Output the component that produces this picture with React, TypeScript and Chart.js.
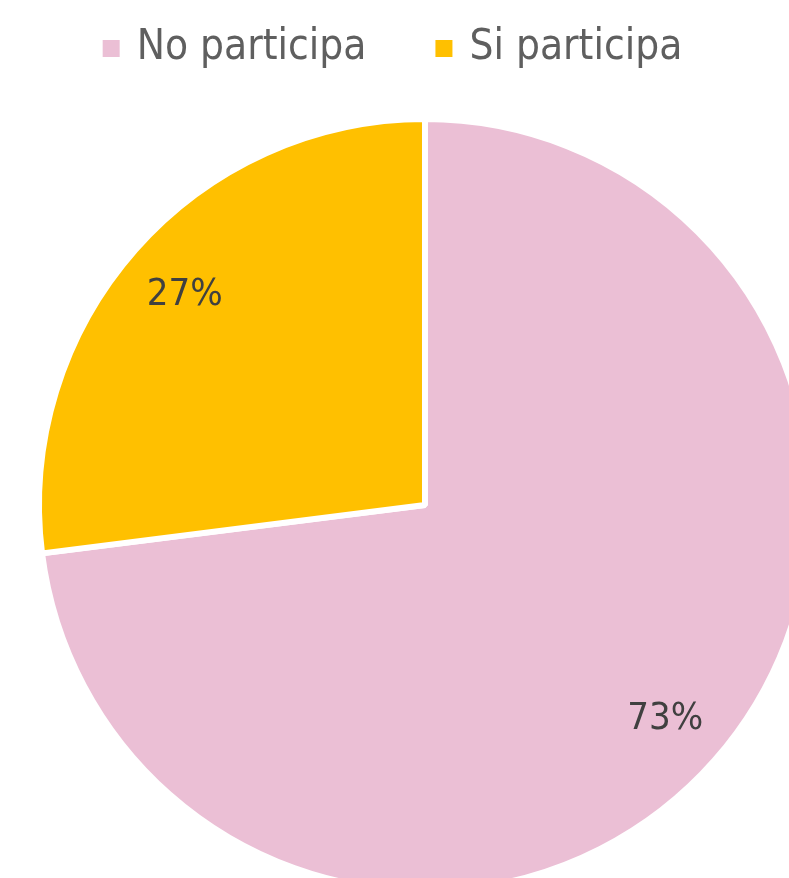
import { useEffect, useRef } from "react";
import { Chart, registerables } from "chart.js";

Chart.register(...registerables);

const categories = ["No participa", "Si participa"];
const values = [73, 27];
const percentLabels = ["73%", "27%"];
const colors = ["#EBBFD5", "#FFC000"];

const FONT = '"DejaVu Sans Condensed", "DejaVu Sans", sans-serif';

export default function App() {
  const ref = useRef<HTMLCanvasElement>(null);

  useEffect(() => {
    if (!ref.current) return;

    const legendPlugin = {
      id: "customLegend",
      afterDraw(chart: any) {
        const ctx = chart.ctx as CanvasRenderingContext2D;
        ctx.save();
        ctx.font = `42px ${FONT}`;
        const labels = chart.data.labels as string[];
        const bg = chart.data.datasets[0].backgroundColor as string[];
        const box = 17;
        const gap = 17;
        const itemGap = 69;
        const widths = labels.map((l) => ctx.measureText(l).width);
        const total =
          widths.reduce((a, w) => a + box + gap + w, 0) + itemGap * (labels.length - 1);
        let x = 392.5 - total / 2;
        const baseline = 59;
        labels.forEach((l, i) => {
          ctx.fillStyle = bg[i];
          ctx.fillRect(x, 40, box, box);
          x += box + gap;
          ctx.fillStyle = "#5F5F5F";
          ctx.textBaseline = "alphabetic";
          ctx.textAlign = "left";
          ctx.fillText(l, x, baseline);
          x += widths[i] + itemGap;
        });
        ctx.restore();
      },
    };

    const pctPlugin = {
      id: "pctLabels",
      afterDatasetsDraw(chart: any) {
        const ctx = chart.ctx as CanvasRenderingContext2D;
        const meta = chart.getDatasetMeta(0);
        ctx.save();
        ctx.font = `38px ${FONT}`;
        ctx.fillStyle = "#404040";
        ctx.textAlign = "center";
        ctx.textBaseline = "middle";
        meta.data.forEach((arc: any, i: number) => {
          const p = arc.getProps(["startAngle", "endAngle", "x", "y", "outerRadius"], true);
          const mid = (p.startAngle + p.endAngle) / 2;
          const r = p.outerRadius * 0.83;
          ctx.fillText(percentLabels[i], p.x + Math.cos(mid) * r, p.y + Math.sin(mid) * r + 2);
        });
        ctx.restore();
      },
    };

    const chart = new Chart(ref.current, {
      type: "pie",
      data: {
        labels: categories,
        datasets: [
          {
            data: values,
            backgroundColor: colors,
            borderColor: "#FFFFFF",
            borderWidth: 6,
            radius: 386,
          },
        ],
      },
      options: {
        responsive: false,
        maintainAspectRatio: false,
        animation: false,
        layout: { padding: 0 },
        plugins: {
          legend: { display: false },
          tooltip: { enabled: false },
        },
      },
      plugins: [legendPlugin, pctPlugin],
    });

    return () => chart.destroy();
  }, []);

  return (
    <div
      style={{
        position: "absolute",
        left: 0,
        top: 0,
        width: 789,
        height: 878,
        overflow: "hidden",
        background: "#FFFFFF",
      }}
    >
      <canvas ref={ref} width={850} height={1010} style={{ display: "block", width: 850, height: 1010 }} />
    </div>
  );
}
